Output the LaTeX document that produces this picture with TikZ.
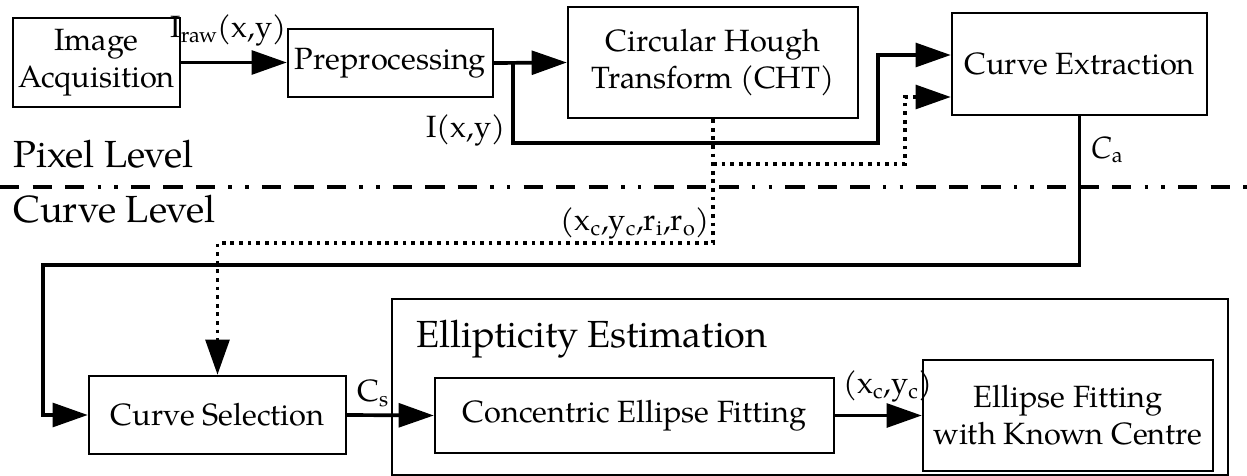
\documentclass[tikz,border=0pt]{standalone}
\usepackage{fontspec}
\setmainfont{TeX Gyre Pagella}
\usetikzlibrary{arrows.meta,positioning,calc}

\begin{document}
\begin{tikzpicture}[x=0.02cm, y=-0.02cm,
    block/.style={draw, line width=1.4pt, align=center, inner sep=0pt, font=\fontsize{17.5}{21}\selectfont},
    flow/.style={line width=2.1pt, -{Triangle[length=20pt,width=13.5pt]}},
    dotflow/.style={flow, dash pattern=on 2.1pt off 2.8pt},
    lbl/.style={inner sep=0pt, font=\fontsize{17.5}{21}\selectfont},
    big/.style={inner sep=0pt, font=\fontsize{21.5}{25}\selectfont}]
    \useasboundingbox (0,0) rectangle (1247,476);

    % pixel level blocks
    \node[block, minimum width=3.34cm, minimum height=1.78cm] (acq) at (96.5,62.5) {Image\\Acquisition};
    \node[block, minimum width=4.10cm, minimum height=1.36cm] (pre) at (390.5,63) {Preprocessing};
    \node[block, minimum width=5.80cm, minimum height=2.22cm] (cht) at (713,62.5) {Circular Hough\\Transform (CHT)};
    \node[block, minimum width=5.10cm, minimum height=2.04cm] (ext) at (1079.5,64) {Curve Extraction};

    % curve level blocks
    \node[block, minimum width=5.14cm, minimum height=1.56cm] (sel) at (217.5,415) {Curve Selection};
    \node[block, minimum width=16.72cm, minimum height=3.52cm] (est) at (810,387) {};
    \node[block, minimum width=7.98cm, minimum height=1.50cm] (conc) at (634.5,415.5) {Concentric Ellipse Fitting};
    \node[block, minimum width=5.80cm, minimum height=2.22cm] (known) at (1068,415.5) {Ellipse Fitting\\with Known Centre};
    \node[big, anchor=base west] (esttitle) at (416,347) {Ellipticity Estimation};

    % level separator
    \coordinate (sepL) at (0,187);
    \coordinate (sepR) at (1247,187);
    \draw[line width=2.1pt, dash pattern=on 11pt off 7.5pt on 11pt off 7.5pt on 11pt off 7.5pt on 2pt off 7.5pt on 2pt off 7.5pt] (sepL) -- (sepR);
    \node[big, anchor=base west] (pix) at (13,168) {Pixel Level};
    \node[big, anchor=base west] (crv) at (13,223) {Curve Level};

    % connectors
    \coordinate (split) at (513,63);
    \coordinate (bend) at (878,143);
    \coordinate (rise) at (878,55);
    \coordinate (tap) at (713,164);
    \coordinate (up) at (905,97);
    \coordinate (turn) at (713,243);
    \coordinate (back) at (43,265);

    \draw[flow] (acq.east) -- (acq.east -| pre.west);
    \draw[flow] (pre.east) -- (cht.west);
    \draw[flow] (split) |- (bend) -- (rise) -- (rise -| ext.west);
    \draw[dotflow] (cht.south) -- (turn) -| (sel.north);
    \draw[dotflow] (tap) -| (up) -- (up -| ext.west);
    \draw[flow] (ext.south) |- (back) |- (sel.west);
    \draw[flow] (sel.east) -- (conc.west);
    \draw[flow] (conc.east) -- (known.west);

    % signal labels
    \node[lbl, anchor=south east] (iraw) at (287,47) {I\textsubscript{raw}(x,y)};
    \node[lbl, anchor=south east] (ixy) at (506,147) {I(x,y)};
    \node[lbl, anchor=south east] (circ) at (710,240) {(x\textsubscript{c},y\textsubscript{c},r\textsubscript{i},r\textsubscript{o})};
    \node[lbl, anchor=north west] (ca) at (1091,136) {\textit{C}\textsubscript{a}};
    \node[lbl, anchor=south west] (cs) at (357,407) {C\textsubscript{s}};
    \node[lbl, anchor=south west] (ctr) at (843,403) {(x\textsubscript{c},y\textsubscript{c})};
\end{tikzpicture}
\end{document}
